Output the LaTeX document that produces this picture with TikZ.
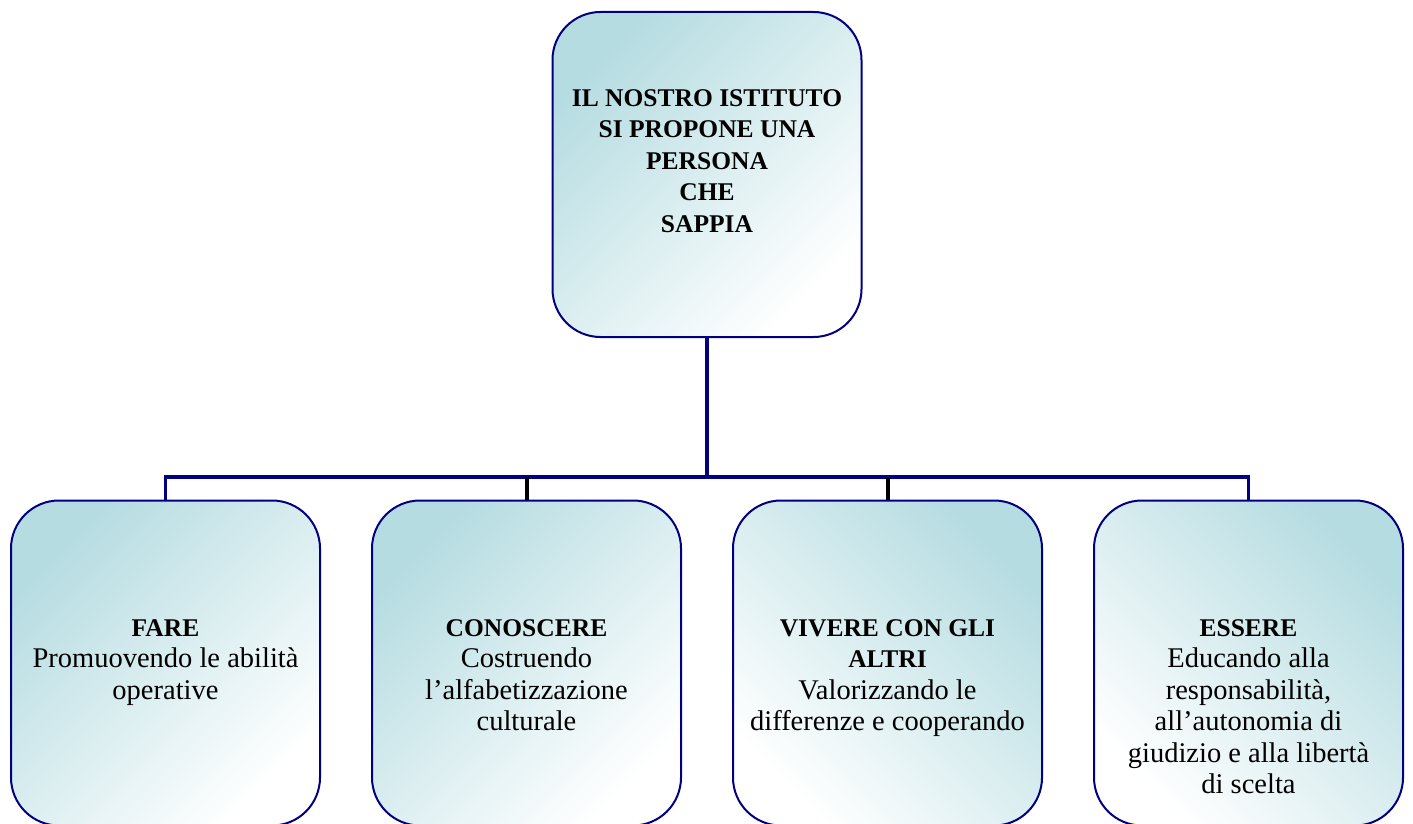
\documentclass[tikz,border=0pt]{standalone}
\usepackage{fontspec}
\setmainfont{Liberation Serif}
\definecolor{boxteal}{RGB}{181,220,225}
\definecolor{boxnavy}{RGB}{0,0,128}
\begin{document}
\begin{tikzpicture}[x=1pt,y=-1pt,
  card/.style={draw=boxnavy, line width=2pt, rounded corners=48pt,
    minimum width=309pt, minimum height=325pt, inner sep=0pt},
  lefttint/.style={top color=boxteal, bottom color=white, shading angle=45},
  righttint/.style={top color=boxteal, bottom color=white, shading angle=-45},
  cardtext/.style={anchor=north, align=center, inner sep=0pt,
    font=\fontsize{28.5}{31.5}\selectfont},
  trunk/.style={draw=boxnavy, line width=4.5pt},
  bluedrop/.style={draw=boxnavy, line width=3.5pt},
  blackdrop/.style={draw=black, line width=4pt}]
\useasboundingbox (0,0) rectangle (1413,824);
\clip (0,0) rectangle (1413,824);
\newcommand\hd[1]{{\fontsize{25.5}{31.5}\selectfont\bfseries #1}}
% boxes
\node[card, lefttint] (top) at (707,174.5) {};
\node[card, lefttint] (b1) at (165.5,663) {};
\node[card, lefttint] (b2) at (526.5,663) {};
\node[card, righttint] (b3) at (887.5,663) {};
\node[card, righttint] (b4) at (1248.5,663) {};
% texts
\node[cardtext] (ttop) at (707,89) {\hd{IL NOSTRO ISTITUTO}\\ \hd{SI PROPONE UNA}\\ \hd{PERSONA}\\ \hd{CHE}\\ \hd{SAPPIA}};
\node[cardtext] (t1) at (165.5,619) {\hd{FARE}\\ Promuovendo le abilità\\ operative};
\node[cardtext] (t2) at (526.5,619) {\hd{CONOSCERE}\\ Costruendo\\ l’alfabetizzazione\\ culturale};
\node[cardtext] (t3) at (887.5,619) {\hd{VIVERE CON GLI}\\ \hd{ALTRI}\\ Valorizzando le\\ differenze e cooperando};
\node[cardtext] (t4) at (1248.5,619) {\hd{ESSERE}\\ Educando alla\\ responsabilità,\\ all’autonomia di\\ giudizio e alla libertà\\ di scelta};
% connectors
\coordinate (j) at (707,477);
\draw[trunk] (top.south) -- (j);
\draw[trunk] ([xshift=-1.75pt]b1.north |- j) -- ([xshift=1.75pt]b4.north |- j);
\draw[bluedrop] (b1.north |- j) -- (b1.north);
\draw[blackdrop] (b2.north |- j) -- (b2.north);
\draw[blackdrop] (b3.north |- j) -- (b3.north);
\draw[bluedrop] (b4.north |- j) -- (b4.north);
\end{tikzpicture}
\end{document}
